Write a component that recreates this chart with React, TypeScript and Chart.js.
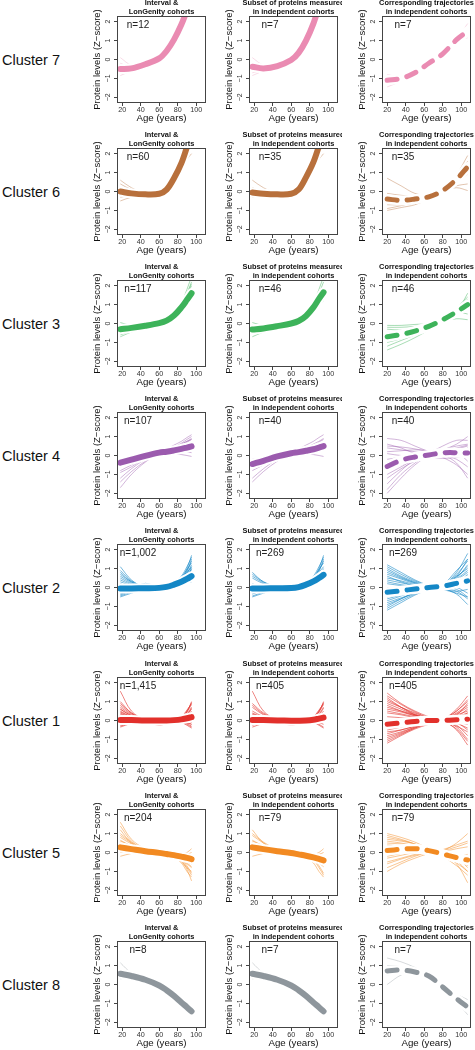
import React, { useEffect, useRef } from "react";
import { Chart, registerables } from "chart.js";

Chart.register(...registerables);

// ---------- data ----------
const AGES_DISC = [18, 30, 45, 60, 68, 76, 84, 90, 95];
const AGES_IND = [20, 35, 50, 65, 80, 95, 107];
const X_TICKS = [20, 40, 60, 80, 100];
const Y_TICKS = [-2, -1, 0, 1, 2];
const X_LIMITS = [14.4, 110.6];
const Y_LIMITS = [-2.3, 2.3];

const COLUMN_TITLES = [
  ["Interval &", "LonGenity cohorts"],
  ["Subset of proteins measured", "in independent cohorts"],
  ["Corresponding trajectories", "in independent cohorts"],
];
const X_TITLE = "Age (years)";
const Y_TITLE = "Protein levels (Z\u2212score)";

const CLUSTER_NAMES = ["Cluster 7", "Cluster 6", "Cluster 3", "Cluster 4", "Cluster 2", "Cluster 1", "Cluster 5", "Cluster 8"];
const N_DISC = [12, 60, 117, 107, 1002, 1415, 204, 8];
const N_SUB = [7, 35, 46, 40, 269, 405, 79, 7];

// Cluster 7
const C7_MEAN_DISC = [-0.5, -0.47, -0.25, 0.06, 0.45, 1.05, 1.85, 2.6, 3.3];
const C7_MEAN_SUB = [-0.38, -0.47, -0.35, -0.03, 0.35, 1.0, 1.9, 2.8, 3.5];
const C7_MEAN_IND = [-1.1, -1.0, -0.7, -0.2, 0.3, 1.05, 1.5];
const C7_THIN_DISC = [
  [0.1, -0.3, -0.3, 0.05, 0.45, 1.05, 1.85, 2.6, 3.3],
  [-0.85, -0.6, -0.3, 0.06, 0.45, 1.1, 1.9, 2.7, 3.4],
  [-0.2, -0.4, -0.27, 0.08, 0.5, 1.2, 2.0, 2.8, 3.5],
  [-0.7, -0.55, -0.25, 0.03, 0.4, 0.95, 1.7, 2.4, 3.1],
];
const C7_THIN_SUB = [C7_THIN_DISC[0], C7_THIN_DISC[1], C7_THIN_DISC[3]];
const C7_THIN_IND = [
  [-0.8, -0.9, -0.65, -0.2, 0.3, 1.1, 1.9],
  [-1.45, -1.15, -0.75, -0.2, 0.3, 1.0, 1.15],
  [-1.2, -1.05, -0.72, -0.22, 0.28, 1.0, 1.5],
];

// Cluster 6
const C6_MEAN_DISC = [0.0, -0.1, -0.15, -0.12, 0.1, 0.7, 1.5, 2.35, 3.1];
const C6_MEAN_SUB = [-0.05, -0.12, -0.15, -0.12, 0.1, 0.75, 1.55, 2.4, 3.2];
const C6_MEAN_IND = [-0.4, -0.47, -0.4, -0.28, 0.05, 0.65, 1.3];
const C6_THIN_DISC = [
  [0.6, 0.2, -0.1, -0.15, 0.1, 0.65, 1.4, 2.1, 2.8],
  [0.4, 0.1, -0.1, -0.12, 0.1, 0.7, 1.5, 2.3, 3.0],
  [0.2, 0.0, -0.12, -0.14, 0.05, 0.6, 1.2, 1.7, 2.0],
  [-0.3, -0.2, -0.15, -0.1, 0.15, 0.8, 1.6, 2.5, 3.2],
  [-0.5, -0.3, -0.2, -0.15, 0.08, 0.7, 1.45, 2.2, 2.6],
  [-0.2, -0.15, -0.25, -0.3, -0.05, 0.55, 1.3, 1.9, 2.4],
];
const C6_THIN_SUB = [C6_THIN_DISC[0], C6_THIN_DISC[2], C6_THIN_DISC[3], C6_THIN_DISC[5]];
const C6_THIN_IND = [
  [0.7, 0.3, -0.1, -0.2, 0.0, 0.3, 0.4],
  [-0.2, -0.5, -0.6, -0.4, 0.1, 0.9, 1.9],
  [-0.7, -0.7, -0.6, -0.35, 0.1, 0.8, 1.5],
  [-0.9, -0.75, -0.55, -0.3, 0.05, 0.55, 1.0],
  [-1.0, -0.85, -0.7, -0.4, 0.0, 0.5, 0.9],
  [-0.1, -0.2, -0.25, -0.2, 0.05, 0.2, 0.05],
  [-0.6, -0.65, -0.55, -0.2, 0.2, 0.9, 1.6],
];

// Cluster 3
const C3_MEAN_DISC = [-0.3, -0.23, -0.12, 0.02, 0.15, 0.42, 0.85, 1.25, 1.6];
const C3_MEAN_SUB = [-0.32, -0.26, -0.14, 0.0, 0.13, 0.4, 0.85, 1.3, 1.65];
const C3_MEAN_IND = [-0.7, -0.58, -0.4, -0.15, 0.2, 0.62, 1.0];
const C3_THIN_DISC = [
  [0.05, -0.1, -0.08, 0.03, 0.18, 0.5, 1.05, 1.6, 2.2],
  [-0.7, -0.45, -0.2, 0.0, 0.12, 0.35, 0.7, 1.0, 1.2],
  [-0.5, -0.35, -0.15, 0.02, 0.15, 0.45, 0.95, 1.5, 2.0],
  [-0.1, -0.15, -0.1, 0.02, 0.17, 0.5, 1.1, 1.8, 2.5],
  [-0.6, -0.4, -0.18, 0.0, 0.13, 0.38, 0.8, 1.2, 1.5],
  [-0.2, -0.2, -0.12, 0.03, 0.16, 0.45, 0.9, 1.4, 1.8],
  [-0.4, -0.3, -0.14, 0.01, 0.14, 0.42, 0.85, 1.3, 1.7],
  [-0.15, -0.15, -0.1, 0.02, 0.16, 0.48, 1.0, 1.6, 2.1],
];
const C3_THIN_SUB = [C3_THIN_DISC[0], C3_THIN_DISC[1], C3_THIN_DISC[3], C3_THIN_DISC[5], C3_THIN_DISC[6]];
const C3_THIN_IND = [
  [-0.1, -0.1, -0.05, 0.0, 0.15, 0.5, 1.0],
  [-1.4, -1.1, -0.75, -0.35, 0.05, 0.5, 0.9],
  [-0.5, -0.4, -0.3, -0.1, 0.15, 0.6, 1.6],
  [-1.0, -0.8, -0.5, -0.2, 0.25, 0.7, 1.3],
  [-0.3, -0.35, -0.3, -0.1, 0.1, 0.25, 0.2],
  [-1.2, -0.9, -0.6, -0.25, 0.2, 0.6, 0.5],
  [-0.8, -0.6, -0.4, -0.15, 0.3, 0.85, 1.4],
  [-0.9, -0.7, -0.45, -0.15, 0.15, 0.5, 0.8],
  [-0.2, -0.2, -0.15, -0.05, 0.2, 0.7, 1.2],
];

// Cluster 4
const C4_MEAN_DISC = [-0.38, -0.22, -0.02, 0.15, 0.2, 0.27, 0.35, 0.42, 0.48];
const C4_MEAN_SUB = [-0.45, -0.28, -0.05, 0.12, 0.18, 0.25, 0.33, 0.42, 0.5];
const C4_MEAN_IND = [-0.58, -0.25, -0.08, 0.03, 0.14, 0.15, 0.13];
const C4_THIN_DISC = [
  [-1.7, -1.0, -0.35, 0.1, 0.18, 0.3, 0.45, 0.5, 0.55],
  [-0.2, -0.15, 0.0, 0.2, 0.35, 0.55, 0.75, 0.95, 1.1],
  [-0.8, -0.5, -0.15, 0.1, 0.2, 0.35, 0.5, 0.7, 0.85],
  [-0.5, -0.35, -0.05, 0.15, 0.15, 0.1, 0.05, 0.0, -0.05],
  [-1.2, -0.7, -0.2, 0.12, 0.25, 0.4, 0.6, 0.75, 0.9],
  [-0.3, -0.2, -0.05, 0.2, 0.25, 0.3, 0.3, 0.2, 0.15],
  [-0.6, -0.4, -0.1, 0.12, 0.2, 0.25, 0.2, 0.25, 0.3],
  [-0.9, -0.6, -0.15, 0.15, 0.3, 0.45, 0.65, 0.85, 1.0],
  [-1.4, -0.85, -0.3, 0.1, 0.2, 0.3, 0.35, 0.4, 0.4],
  [-0.4, -0.25, -0.05, 0.18, 0.3, 0.45, 0.6, 0.75, 0.85],
];
const C4_THIN_SUB = [C4_THIN_DISC[1], C4_THIN_DISC[2], C4_THIN_DISC[3], C4_THIN_DISC[4], C4_THIN_DISC[6], C4_THIN_DISC[8]];
const C4_THIN_IND = [
  [0.9, 0.8, 0.5, 0.2, -0.1, -0.5, -1.0],
  [-2.0, -1.2, -0.5, 0.0, 0.3, 0.5, 0.6],
  [0.4, 0.3, 0.2, 0.1, 0.3, 0.6, 1.0],
  [-1.5, -0.8, -0.2, 0.2, 0.35, 0.2, -0.3],
  [-0.2, -0.1, -0.05, -0.1, -0.15, -0.1, 0.0],
  [-1.0, -0.6, -0.2, 0.1, 0.2, 0.35, 0.5],
  [0.2, 0.25, 0.3, 0.25, 0.05, -0.4, -1.2],
  [-0.7, -0.5, -0.3, -0.1, 0.05, 0.25, 0.3],
  [-1.8, -1.0, -0.4, 0.1, 0.5, 0.8, 0.8],
  [0.6, 0.4, 0.1, -0.1, -0.1, 0.1, 0.4],
  [0.5, 0.45, 0.35, 0.2, 0.05, -0.2, -0.6],
  [-1.2, -0.7, -0.3, 0.0, 0.2, 0.4, 0.55],
  [0.1, 0.0, 0.0, 0.05, 0.15, 0.3, 0.3],
  [-0.4, -0.3, -0.15, 0.0, 0.15, 0.3, 0.2],
];

// Cluster 2
const C2_MEAN_DISC = [-0.05, -0.05, -0.04, -0.02, 0.03, 0.15, 0.3, 0.45, 0.6];
const C2_MEAN_SUB = [-0.05, -0.05, -0.04, -0.03, 0.02, 0.15, 0.32, 0.5, 0.67];
const C2_MEAN_IND = [-0.25, -0.17, -0.08, 0.0, 0.07, 0.22, 0.35];
const C2_THIN_DISC = [
  [1.1, 0.4, 0.0, -0.05, 0.0, 0.1, 0.3, 0.6, 1.0],
  [0.8, 0.3, 0.05, 0.0, 0.05, 0.2, 0.45, 0.9, 1.4],
  [0.5, 0.2, 0.0, -0.02, 0.02, 0.1, 0.25, 0.5, 0.7],
  [0.3, 0.1, -0.05, -0.05, 0.0, 0.15, 0.35, 0.75, 1.2],
  [-0.5, -0.3, -0.1, -0.05, 0.0, 0.1, 0.2, 0.3, 0.4],
  [-0.3, -0.2, -0.08, -0.03, 0.03, 0.2, 0.5, 1.0, 1.7],
  [0.0, -0.05, 0.22, 0.0, -0.05, 0.05, 0.15, 0.25, 0.3],
  [-0.4, -0.2, -0.22, -0.05, 0.05, 0.2, 0.4, 0.65, 0.9],
  [0.6, 0.25, 0.0, -0.1, -0.05, 0.1, 0.3, 0.55, 0.8],
  [-0.1, -0.1, -0.05, 0.0, 0.05, 0.25, 0.55, 0.95, 1.3],
  [0.2, 0.0, -0.05, -0.03, 0.02, 0.12, 0.3, 0.45, 0.55],
  [-0.2, -0.15, -0.1, -0.05, 0.02, 0.15, 0.35, 0.6, 1.0],
  [0.9, 0.35, 0.02, -0.03, 0.0, 0.12, 0.35, 0.7, 1.1],
  [-0.45, -0.25, -0.1, -0.04, 0.02, 0.18, 0.45, 0.85, 1.5],
  [0.4, 0.15, 0.0, 0.0, 0.03, 0.15, 0.3, 0.4, 0.45],
  [-0.15, -0.1, -0.06, -0.04, 0.0, 0.08, 0.2, 0.4, 0.6],
  [0.7, 0.3, 0.05, 0.02, 0.05, 0.25, 0.6, 1.1, 1.6],
  [0.1, 0.05, -0.02, -0.02, 0.01, 0.1, 0.25, 0.35, 0.35],
  [-0.35, -0.15, -0.05, 0.0, 0.05, 0.22, 0.5, 0.8, 1.1],
  [0.15, 0.05, 0.0, -0.03, 0.0, 0.1, 0.22, 0.4, 0.5],
];
const C2_THIN_SUB = [
  C2_THIN_DISC[1], C2_THIN_DISC[2], C2_THIN_DISC[4], C2_THIN_DISC[5], C2_THIN_DISC[8], C2_THIN_DISC[9],
  C2_THIN_DISC[10], C2_THIN_DISC[11], C2_THIN_DISC[13], C2_THIN_DISC[15], C2_THIN_DISC[16], C2_THIN_DISC[18],
];
const C2_THIN_IND = [
  [1.2, 0.8, 0.4, 0.1, -0.1, -0.3, -0.5],
  [-1.2, -0.8, -0.4, -0.1, 0.15, 0.6, 1.0],
  [0.8, 0.5, 0.25, 0.05, 0.0, 0.2, 0.4],
  [-0.8, -0.55, -0.3, -0.1, 0.1, 0.8, 1.8],
  [0.5, 0.35, 0.15, 0.0, -0.05, -0.35, -0.9],
  [-0.5, -0.35, -0.2, -0.05, 0.1, 0.45, 0.9],
  [0.3, 0.15, 0.05, 0.0, 0.0, 0.1, 0.2],
  [-1.0, -0.6, -0.25, 0.0, 0.15, 0.9, 1.5],
  [0.0, -0.05, -0.05, 0.0, 0.05, 0.3, 0.6],
  [1.0, 0.6, 0.3, 0.05, -0.1, -0.2, -0.1],
  [-0.3, -0.2, -0.1, 0.0, 0.05, 0.5, 1.2],
  [0.6, 0.3, 0.1, 0.0, 0.05, 0.0, -0.3],
  [-0.7, -0.45, -0.2, -0.05, 0.05, 0.3, 0.6],
  [0.2, 0.1, 0.0, 0.0, 0.0, 0.2, 0.7],
  [1.1, 0.7, 0.35, 0.08, -0.05, 0.0, 0.2],
  [-1.1, -0.7, -0.35, -0.05, 0.12, 0.7, 1.4],
  [0.7, 0.45, 0.2, 0.05, 0.0, -0.1, -0.5],
  [-0.6, -0.4, -0.2, -0.05, 0.08, 0.6, 1.5],
  [0.4, 0.25, 0.1, 0.0, 0.0, 0.15, 0.5],
  [-0.4, -0.3, -0.15, 0.0, 0.1, 0.4, 0.8],
  [0.9, 0.55, 0.25, 0.05, -0.05, -0.2, -0.6],
  [-0.9, -0.6, -0.3, -0.05, 0.1, 0.55, 1.1],
];

// Cluster 1
const C1_MEAN_DISC = [0.03, 0.02, 0.0, 0.0, 0.0, 0.02, 0.06, 0.12, 0.18];
const C1_MEAN_SUB = [0.03, 0.02, 0.0, -0.01, -0.01, 0.0, 0.04, 0.1, 0.15];
const C1_MEAN_IND = [-0.2, -0.12, -0.05, 0.0, 0.0, 0.04, 0.07];
const C1_THIN_DISC = [
  [1.55, 0.5, 0.05, 0.0, 0.0, 0.0, 0.05, 0.1, 0.15],
  [0.9, 0.4, 0.05, 0.0, 0.0, 0.02, 0.2, 0.5, 0.95],
  [0.6, 0.25, 0.0, -0.05, -0.02, 0.0, -0.05, -0.15, -0.3],
  [-0.35, -0.15, -0.02, 0.0, 0.0, 0.0, 0.1, 0.35, 0.7],
  [0.3, 0.1, 0.0, 0.0, 0.02, 0.05, -0.1, -0.25, -0.4],
  [-0.2, -0.1, 0.0, 0.15, 0.1, 0.0, 0.05, 0.2, 0.4],
  [0.4, 0.15, -0.05, -0.25, -0.15, 0.0, 0.1, 0.25, 0.5],
  [0.1, 0.05, 0.1, 0.2, 0.05, -0.05, 0.0, 0.05, 0.1],
  [-0.1, -0.05, 0.0, -0.1, -0.05, 0.0, 0.15, 0.45, 0.85],
  [0.7, 0.3, 0.05, 0.0, 0.0, -0.02, -0.08, -0.12, -0.2],
  [0.2, 0.05, -0.05, 0.0, 0.0, 0.05, 0.05, 0.0, -0.1],
  [0.5, 0.2, 0.0, 0.05, 0.03, 0.05, 0.15, 0.3, 0.3],
  [1.0, 0.4, 0.05, 0.02, 0.0, 0.02, 0.1, 0.3, 0.6],
  [-0.25, -0.1, 0.0, 0.0, 0.01, 0.03, 0.15, 0.45, 1.0],
  [0.8, 0.35, 0.05, 0.0, -0.02, -0.03, -0.1, -0.2, -0.35],
  [0.45, 0.2, 0.02, 0.0, 0.0, 0.02, 0.08, 0.2, 0.45],
  [0.0, 0.0, 0.02, 0.05, 0.0, 0.0, 0.1, 0.3, 0.65],
  [0.6, 0.25, 0.0, 0.0, 0.0, 0.0, 0.0, 0.05, 0.05],
  [-0.3, -0.12, 0.0, 0.03, 0.02, 0.0, -0.05, -0.1, -0.2],
  [0.35, 0.15, 0.03, 0.0, 0.0, 0.03, 0.2, 0.55, 0.9],
];
const C1_THIN_SUB = [
  C1_THIN_DISC[0], C1_THIN_DISC[1], C1_THIN_DISC[3], C1_THIN_DISC[4], C1_THIN_DISC[6], C1_THIN_DISC[8],
  C1_THIN_DISC[9], C1_THIN_DISC[11], C1_THIN_DISC[13], C1_THIN_DISC[14], C1_THIN_DISC[16], C1_THIN_DISC[19],
];
const C1_THIN_IND = [
  [1.45, 0.9, 0.5, 0.2, 0.0, -0.3, -0.6],
  [-1.2, -0.8, -0.45, -0.2, 0.0, 0.4, 0.8],
  [1.0, 0.7, 0.4, 0.15, 0.05, 0.3, 0.9],
  [-0.8, -0.6, -0.35, -0.15, 0.05, 0.6, 1.3],
  [0.6, 0.45, 0.25, 0.1, 0.0, -0.5, -1.3],
  [-0.5, -0.35, -0.2, -0.1, 0.0, 0.2, 0.4],
  [0.2, 0.15, 0.1, 0.05, 0.0, -0.15, -0.4],
  [-1.0, -0.7, -0.4, -0.1, 0.1, 0.3, 0.5],
  [0.8, 0.5, 0.25, 0.05, -0.05, -0.25, -0.8],
  [0.0, -0.05, -0.05, 0.0, 0.0, 0.1, 0.2],
  [-0.3, -0.25, -0.15, -0.05, 0.05, 0.5, 1.0],
  [0.4, 0.3, 0.15, 0.05, -0.05, -0.1, -0.2],
  [-0.6, -0.5, -0.3, -0.1, 0.05, 0.1, 0.0],
  [1.2, 0.7, 0.3, 0.05, 0.0, 0.05, 0.3],
  [1.3, 0.85, 0.45, 0.15, 0.0, -0.1, 0.0],
  [-1.1, -0.75, -0.4, -0.15, 0.05, 0.5, 1.1],
  [0.9, 0.6, 0.3, 0.1, 0.0, -0.35, -1.0],
  [-0.7, -0.5, -0.3, -0.1, 0.05, 0.35, 0.7],
  [0.5, 0.35, 0.2, 0.05, 0.0, 0.05, 0.4],
  [-0.4, -0.3, -0.2, -0.05, 0.0, -0.1, -0.5],
  [0.7, 0.5, 0.3, 0.1, 0.0, 0.2, 0.6],
  [-0.9, -0.65, -0.35, -0.1, 0.05, 0.2, 0.3],
  [1.1, 0.7, 0.35, 0.1, -0.05, -0.45, -1.1],
];

// Cluster 5
const C5_MEAN_DISC = [0.27, 0.18, 0.07, -0.02, -0.08, -0.14, -0.22, -0.28, -0.35];
const C5_MEAN_SUB = [0.27, 0.18, 0.07, -0.03, -0.1, -0.17, -0.26, -0.34, -0.42];
const C5_MEAN_IND = [0.1, 0.17, 0.2, 0.1, -0.08, -0.27, -0.4];
const C5_THIN_DISC = [
  [1.6, 0.7, 0.2, 0.0, -0.1, -0.2, -0.4, -0.6, -0.8],
  [-0.2, -0.05, 0.05, -0.02, -0.05, -0.1, -0.1, 0.0, 0.2],
  [0.8, 0.45, 0.15, 0.0, -0.08, -0.2, -0.45, -0.9, -1.5],
  [0.5, 0.3, 0.1, -0.02, -0.05, -0.1, -0.15, -0.1, 0.0],
  [1.0, 0.55, 0.15, -0.05, -0.1, -0.2, -0.35, -0.7, -1.1],
  [0.1, 0.1, 0.05, 0.0, -0.05, -0.15, -0.3, -0.5, -0.6],
  [1.2, 0.5, 0.1, 0.0, -0.1, -0.25, -0.55, -1.0, -1.3],
  [0.3, 0.2, 0.05, -0.05, -0.08, -0.05, -0.05, -0.15, -0.3],
  [0.65, 0.35, 0.1, -0.03, -0.07, -0.15, -0.25, -0.4, -0.5],
  [0.0, 0.05, 0.08, 0.0, -0.06, -0.12, -0.2, -0.3, -0.4],
  [1.4, 0.6, 0.15, -0.02, -0.1, -0.25, -0.5, -0.8, -1.0],
  [0.9, 0.5, 0.12, -0.03, -0.08, -0.15, -0.3, -0.55, -0.75],
  [0.4, 0.25, 0.08, 0.0, -0.06, -0.1, -0.2, -0.25, -0.2],
  [0.6, 0.35, 0.1, -0.02, -0.08, -0.18, -0.4, -0.8, -1.2],
];
const C5_THIN_SUB = [C5_THIN_DISC[1], C5_THIN_DISC[3], C5_THIN_DISC[4], C5_THIN_DISC[5], C5_THIN_DISC[6], C5_THIN_DISC[8], C5_THIN_DISC[11], C5_THIN_DISC[13]];
const C5_THIN_IND = [
  [1.0, 0.8, 0.55, 0.2, -0.2, -0.7, -1.2],
  [-1.0, -0.6, -0.3, -0.05, 0.15, 0.4, 0.6],
  [0.7, 0.6, 0.45, 0.2, -0.1, -0.6, -1.6],
  [-0.6, -0.35, -0.15, 0.0, 0.1, 0.5, 1.0],
  [0.9, 0.7, 0.45, 0.15, -0.15, -0.4, -0.6],
  [-0.3, -0.15, 0.0, 0.05, 0.0, -0.1, -0.2],
  [0.4, 0.35, 0.3, 0.15, 0.0, -0.2, -0.4],
  [0.0, 0.1, 0.15, 0.1, -0.05, -0.45, -1.0],
  [-0.8, -0.5, -0.2, 0.0, 0.05, 0.2, 0.3],
  [0.6, 0.5, 0.35, 0.1, -0.1, -0.3, -0.7],
  [0.8, 0.65, 0.45, 0.15, -0.15, -0.55, -1.0],
  [-0.5, -0.3, -0.1, 0.05, 0.1, 0.3, 0.5],
  [0.2, 0.25, 0.2, 0.1, -0.05, -0.3, -0.55],
  [0.5, 0.45, 0.35, 0.15, -0.05, -0.15, -0.1],
  [-0.2, -0.05, 0.1, 0.1, 0.0, -0.25, -0.8],
];

// Cluster 8
const C8_MEAN_DISC = [0.57, 0.45, 0.25, -0.05, -0.3, -0.6, -0.95, -1.2, -1.42];
const C8_MEAN_SUB = [0.57, 0.45, 0.25, -0.05, -0.3, -0.6, -0.95, -1.2, -1.42];
const C8_MEAN_IND = [0.72, 0.77, 0.66, 0.45, -0.13, -0.75, -1.2];
const C8_THIN_DISC = [
  [1.15, 0.6, 0.25, -0.05, -0.3, -0.6, -0.95, -1.15, -1.25],
  [0.3, 0.38, 0.25, -0.05, -0.3, -0.6, -0.95, -1.3, -1.65],
  [0.6, 0.45, 0.25, -0.05, -0.3, -0.58, -0.9, -1.15, -1.35],
];
const C8_THIN_SUB = [C8_THIN_DISC[0], C8_THIN_DISC[1], C8_THIN_DISC[2]];
const C8_THIN_IND = [
  [1.4, 1.2, 0.9, 0.5, 0.0, -0.6, -1.0],
  [0.0, 0.5, 0.7, 0.5, -0.1, -0.9, -1.6],
  [0.5, 0.7, 0.75, 0.45, -0.3, -0.95, -1.3],
  [1.0, 0.95, 0.7, 0.4, -0.05, -0.5, -0.8],
];

// ---------- styles ----------
const CLUSTER_COLORS = ["#EA8BB2", "#B8703C", "#3DB35A", "#9B5BAE", "#1487C6", "#E2302B", "#F28A22", "#8E969C"];
const THIN_ALPHA = [0.35, 0.45, 0.5, 0.5, 0.65, 0.65, 0.55, 0.4];
const FONT = "'Liberation Sans', Arial, Helvetica, sans-serif";

const CLUSTERS = [
  { mean: [C7_MEAN_DISC, C7_MEAN_SUB, C7_MEAN_IND], thin: [C7_THIN_DISC, C7_THIN_SUB, C7_THIN_IND] },
  { mean: [C6_MEAN_DISC, C6_MEAN_SUB, C6_MEAN_IND], thin: [C6_THIN_DISC, C6_THIN_SUB, C6_THIN_IND] },
  { mean: [C3_MEAN_DISC, C3_MEAN_SUB, C3_MEAN_IND], thin: [C3_THIN_DISC, C3_THIN_SUB, C3_THIN_IND] },
  { mean: [C4_MEAN_DISC, C4_MEAN_SUB, C4_MEAN_IND], thin: [C4_THIN_DISC, C4_THIN_SUB, C4_THIN_IND] },
  { mean: [C2_MEAN_DISC, C2_MEAN_SUB, C2_MEAN_IND], thin: [C2_THIN_DISC, C2_THIN_SUB, C2_THIN_IND] },
  { mean: [C1_MEAN_DISC, C1_MEAN_SUB, C1_MEAN_IND], thin: [C1_THIN_DISC, C1_THIN_SUB, C1_THIN_IND] },
  { mean: [C5_MEAN_DISC, C5_MEAN_SUB, C5_MEAN_IND], thin: [C5_THIN_DISC, C5_THIN_SUB, C5_THIN_IND] },
  { mean: [C8_MEAN_DISC, C8_MEAN_SUB, C8_MEAN_IND], thin: [C8_THIN_DISC, C8_THIN_SUB, C8_THIN_IND] },
];

// layout
const BOX_LEFT = [117, 249, 382];
const BOX_TOP0 = 16;
const ROW_STEP = 132.1;
const BOX_W = 89;
const BOX_H = 87;
const PAD_L = 32;
const PAD_T = 17;
const PAD_R = 4;
const PAD_B = 22;

function rgba(hex: string, a: number) {
  const n = parseInt(hex.slice(1), 16);
  return `rgba(${(n >> 16) & 255},${(n >> 8) & 255},${n & 255},${a})`;
}

function fmtTick(v: number) {
  return v < 0 ? "\u2212" + Math.abs(v) : String(v);
}

const decorPlugin = {
  id: "decor",
  afterDraw(chart: any, _args: any, opts: any) {
    const { ctx, chartArea: a } = chart;
    ctx.save();
    ctx.strokeStyle = "#444";
    ctx.lineWidth = 1;
    ctx.strokeRect(a.left + 0.5, a.top + 0.5, a.right - a.left - 1, a.bottom - a.top - 1);
    ctx.fillStyle = "#111";
    ctx.textAlign = "center";
    ctx.textBaseline = "middle";
    ctx.font = `bold 7.4px ${FONT}`;
    const cx = (a.left + a.right) / 2;
    ctx.fillText(opts.title[0], cx, a.top - 13.5);
    ctx.fillText(opts.title[1], cx, a.top - 4.5);
    ctx.font = `10px ${FONT}`;
    ctx.fillStyle = "#222";
    ctx.fillText(opts.nLabel, a.left + 21, a.top + 9.5);
    const ys = chart.scales.y;
    ctx.font = `7px ${FONT}`;
    ctx.fillStyle = "#333";
    for (const v of Y_TICKS) {
      const y = ys.getPixelForValue(v);
      ctx.save();
      ctx.translate(a.left - 8.5, y);
      ctx.rotate(-Math.PI / 2);
      ctx.fillText(fmtTick(v), 0, 0);
      ctx.restore();
    }
    ctx.restore();
  },
};

type PanelProps = {
  row: number;
  col: number;
};

function Panel({ row, col }: PanelProps) {
  const ref = useRef<HTMLCanvasElement>(null);
  const left = BOX_LEFT[col];
  const top = Math.round(BOX_TOP0 + ROW_STEP * row);
  useEffect(() => {
    const cl = CLUSTERS[row];
    const color = CLUSTER_COLORS[row];
    const ages = col === 2 ? AGES_IND : AGES_DISC;
    const dashed = col === 2;
    const pts = (vals: number[]) => vals.map((y, i) => ({ x: ages[i], y }));
    const common = {
      pointRadius: 0,
      fill: false,
      tension: 0.35,
      capBezierPoints: false,
      clip: 0,
      borderJoinStyle: "round",
    };
    const datasets: any[] = [
      {
        ...common,
        data: pts(cl.mean[col]),
        borderColor: color,
        borderWidth: dashed ? 5 : 6,
        borderDash: dashed ? [10, 10] : [],
        borderCapStyle: "round",
        order: 0,
      },
      {
        ...common,
        data: pts(cl.mean[col]),
        borderColor: "#ffffff",
        borderWidth: 10,
        borderCapStyle: "round",
        order: 1,
      },
      ...cl.thin[col].map((t: number[]) => ({
        ...common,
        data: pts(t),
        borderColor: rgba(color, THIN_ALPHA[row]),
        borderWidth: 0.9,
        order: 2,
      })),
    ];
    const n = col === 0 ? N_DISC[row] : N_SUB[row];
    const gridOpts = {
      display: true,
      drawOnChartArea: false,
      drawTicks: true,
      tickLength: 3,
      color: "#444",
      lineWidth: 1,
    };
    const chart = new Chart(ref.current as HTMLCanvasElement, {
      type: "line",
      data: { datasets },
      options: {
        responsive: false,
        animation: false,
        devicePixelRatio: 1,
        events: [],
        layout: { padding: { left: 0, top: PAD_T, right: PAD_R, bottom: 0 } },
        plugins: {
          legend: { display: false },
          tooltip: { enabled: false },
          title: { display: false },
          decor: { title: COLUMN_TITLES[col], nLabel: "n=" + n.toLocaleString("en-US") },
        } as any,
        scales: {
          x: {
            type: "linear",
            position: "bottom",
            min: X_LIMITS[0],
            max: X_LIMITS[1],
            afterFit: (s: any) => {
              s.height = PAD_B;
            },
            afterBuildTicks: (s: any) => {
              s.ticks = X_TICKS.map((v) => ({ value: v }));
            },
            grid: gridOpts,
            border: { display: false },
            ticks: {
              font: { size: 7.2, family: FONT, lineHeight: 1 },
              color: "#333",
              padding: 0,
              maxRotation: 0,
              minRotation: 0,
              autoSkip: false,
              callback: (v: any) => String(v),
            },
            title: {
              display: true,
              text: X_TITLE,
              color: "#111",
              font: { size: 9.7, family: FONT, lineHeight: 1 },
              padding: { top: 0, bottom: 2 },
            },
          },
          y: {
            type: "linear",
            position: "left",
            min: Y_LIMITS[0],
            max: Y_LIMITS[1],
            afterFit: (s: any) => {
              s.width = PAD_L;
            },
            afterBuildTicks: (s: any) => {
              s.ticks = Y_TICKS.map((v) => ({ value: v }));
            },
            grid: gridOpts,
            border: { display: false },
            ticks: { display: false },
            title: {
              display: true,
              text: Y_TITLE,
              color: "#111",
              font: { size: 9.5, family: FONT, lineHeight: 1 },
              padding: { top: 7.25, bottom: 0 },
            },
          },
        },
      } as any,
      plugins: [decorPlugin],
    });
    return () => chart.destroy();
  }, [row, col]);
  const w = PAD_L + BOX_W + PAD_R;
  const h = PAD_T + BOX_H + PAD_B;
  return (
    <canvas
      ref={ref}
      width={w}
      height={h}
      style={{ position: "absolute", left: left - PAD_L, top: top - PAD_T, width: w, height: h }}
    />
  );
}

export default function App() {
  return (
    <div style={{ position: "absolute", left: 0, top: 0, width: 475, height: 1050, background: "#fff", overflow: "hidden" }}>
      {CLUSTER_NAMES.map((name, r) => {
        const top = Math.round(BOX_TOP0 + ROW_STEP * r);
        return (
          <React.Fragment key={name}>
            <div
              style={{
                position: "absolute",
                left: 2,
                top: top + BOX_H / 2,
                transform: "translateY(-50%)",
                fontFamily: FONT,
                fontSize: 14.5,
                lineHeight: 1,
                whiteSpace: "nowrap",
                color: "#111",
              }}
            >
              {name}
            </div>
            {[0, 1, 2].map((c) => (
              <Panel key={c} row={r} col={c} />
            ))}
          </React.Fragment>
        );
      })}
    </div>
  );
}
